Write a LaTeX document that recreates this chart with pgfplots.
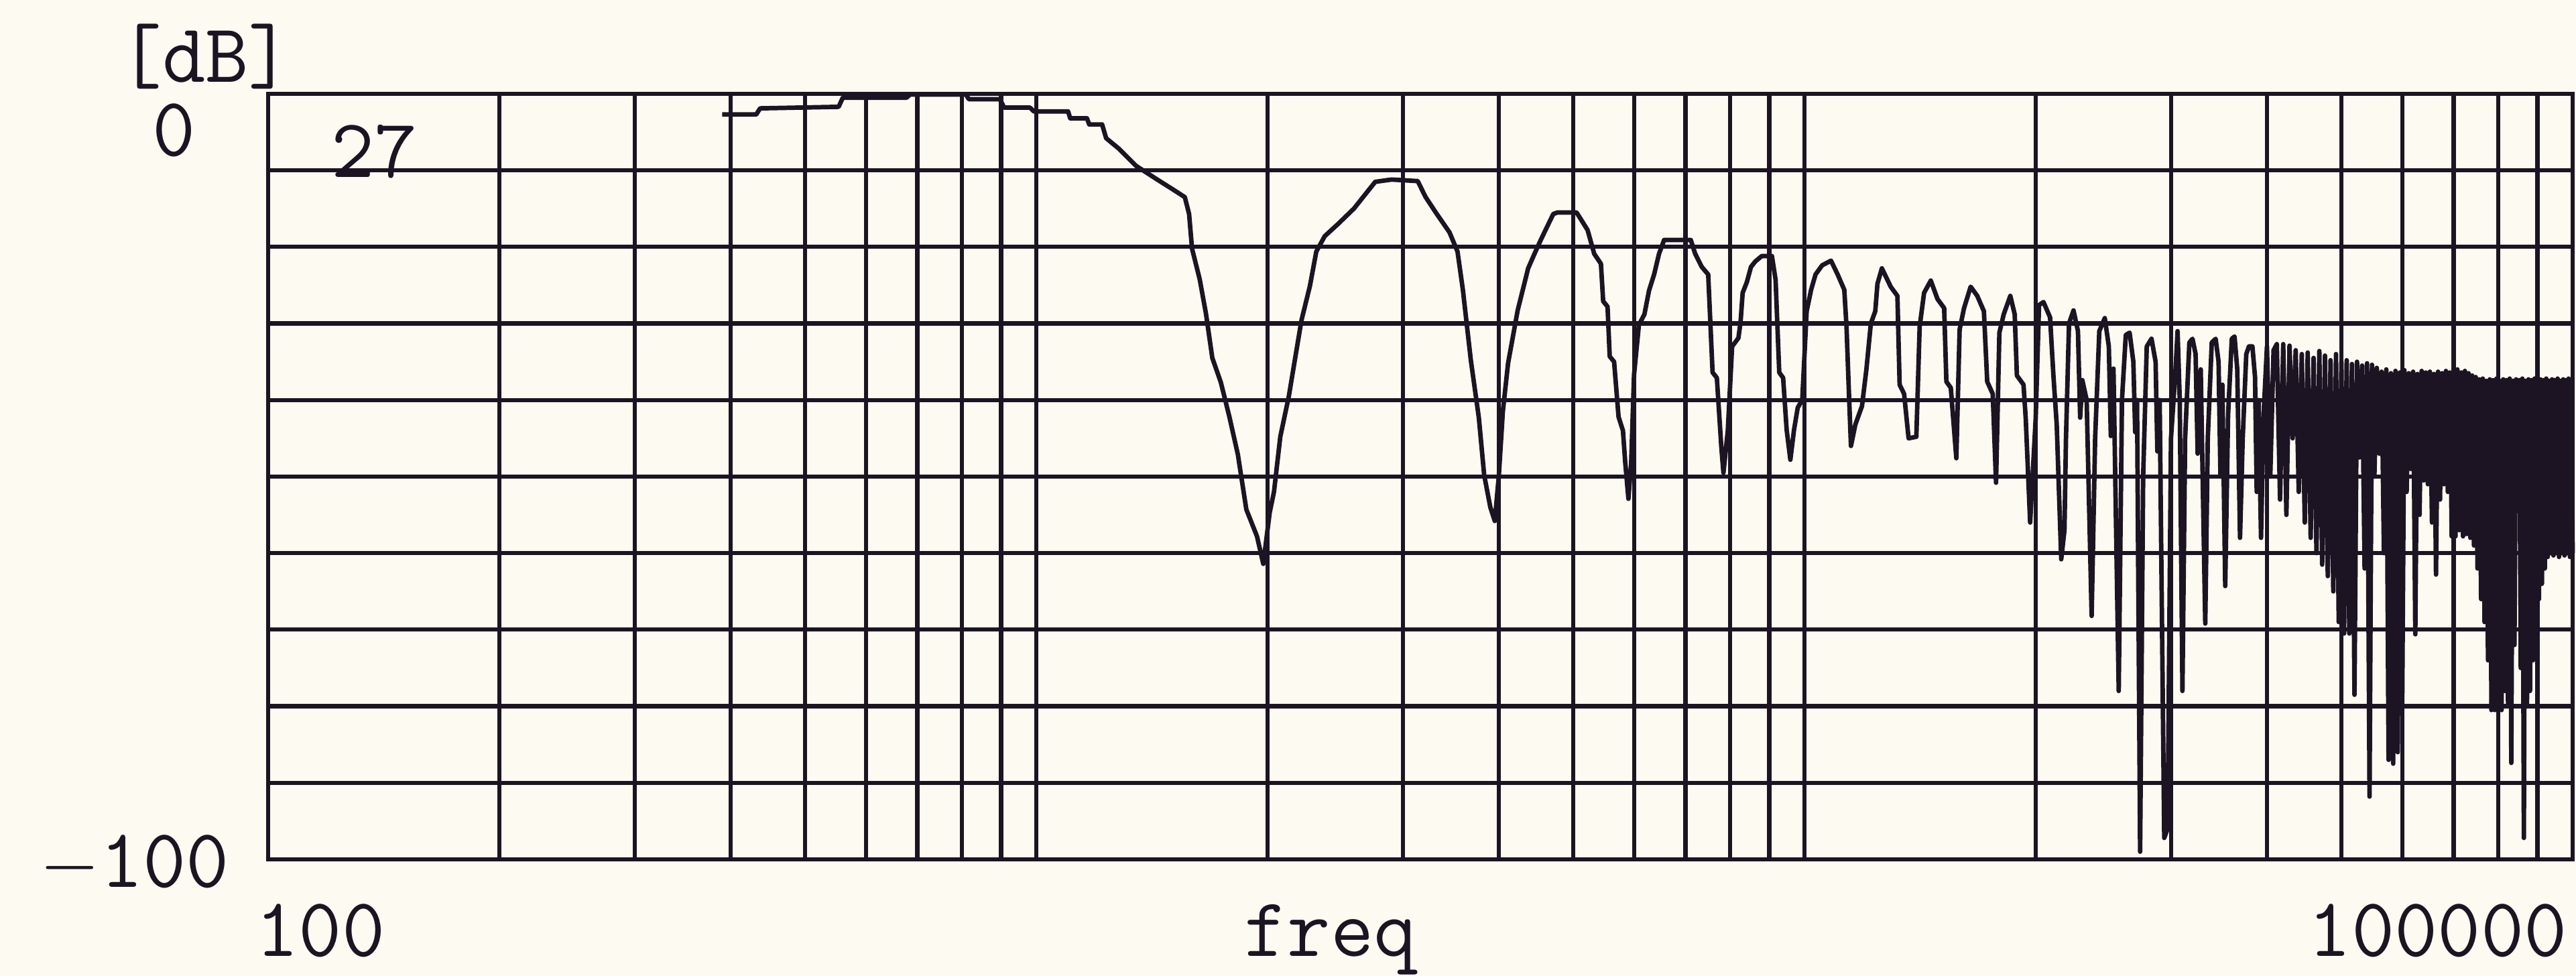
\documentclass[border=0pt]{standalone}
\usepackage{pgfplots}
\pgfplotsset{compat=1.18}
\usepackage{fontspec}
\definecolor{ink}{RGB}{28,20,34}
\definecolor{bgc}{RGB}{252,250,241}
\pagecolor{bgc}
\pgfplotstableread{
f dB
390 -2.7
432 -2.7
437 -1.9
553 -1.7
560 -0.5
678 -0.5
685 -0.1
810 -0.1
817 -0.7
897 -0.7
908 -1.8
981 -1.8
993 -2.3
1100 -2.3
1107 -3.2
1164 -3.2
1172 -4.0
1218 -4.0
1233 -5.8
1282 -7.2
1348 -9.4
1437 -11.2
1512 -12.6
1561 -13.5
1581 -15.7
1595 -20.2
1632 -24.2
1663 -28.7
1695 -34.5
1739 -37.7
1784 -42.2
1830 -47.1
1877 -54.3
1938 -57.8
1975 -61.4
2013 -54.7
2039 -52
2078 -44.8
2132 -39.5
2173 -34.5
2214 -29.6
2271 -25.1
2315 -20.6
2374 -18.6
2471 -17.0
2591 -15.0
2762 -11.5
2900 -11.2
3137 -11.4
3213 -13.5
3317 -15.6
3451 -18.1
3535 -20.6
3592 -25.6
3679 -34.8
3768 -42.3
3829 -49.8
3900 -54
3953 -55.8
4000 -50
4049 -41.5
4113 -35.2
4233 -28.3
4368 -22.8
4452 -20.9
4536 -19.1
4622 -17.4
4710 -15.7
4770 -15.5
5050 -15.5
5117 -16.4
5220 -17.8
5325 -20.9
5433 -22.2
5470 -27.1
5542 -27.8
5578 -34.3
5652 -35
5728 -42.2
5804 -44
5843 -48.1
5900 -52.9
5950 -48
6000 -36.7
6088 -30.2
6190 -28.8
6276 -25.7
6372 -23.6
6467 -20.9
6566 -19.1
7113 -19.1
7207 -20.9
7349 -22.6
7494 -23.6
7594 -36.4
7692 -37.1
7794 -46
7845 -49.5
7948 -44
8050 -33
8204 -31.9
8257 -29.8
8309 -26
8414 -24.6
8520 -22.6
8630 -21.9
8797 -21.2
9071 -21.2
9171 -24.3
9272 -36.4
9380 -37.1
9480 -43.9
9586 -47.8
9692 -43.9
9800 -41
9934 -40
10066 -28.4
10201 -25.6
10337 -23.6
10545 -22.4
10828 -21.8
11046 -23.6
11268 -25.6
11343 -30.4
11419 -38.4
11495 -46
11648 -43.2
11881 -40.8
12040 -36
12201 -30
12364 -28.4
12446 -24.8
12612 -22.8
12950 -25.2
13213 -26.4
13301 -38
13481 -39.2
13663 -45
13984 -44.8
14124 -30.4
14313 -26
14603 -24.4
14899 -26.8
15201 -28
15302 -37.6
15506 -38.4
15765 -47.6
15922 -30.8
16134 -28
16457 -25.2
16787 -26.4
17124 -28.4
17295 -37.6
17584 -39.2
17760 -50.8
17937 -31.2
18174 -28.8
18535 -26.4
18780 -28.8
18905 -36.8
19284 -38
19413 -42.4
19672 -56
20000 -42.4
20200 -27.6
20470 -27.2
20880 -29.2
21090 -36.8
21300 -43.2
21590 -60.8
21800 -57
21900 -45
22100 -30
22400 -28.3
22700 -31
22850 -42.3
23000 -37.4
23300 -40
23650 -68.2
23900 -45
24200 -31
24600 -29.3
24900 -33
25050 -44.7
25250 -35.9
25650 -78
25900 -40
26200 -31.5
26500 -31.2
26800 -35
26950 -44.2
27100 -40
27350 -99
27600 -50
27900 -33
28300 -32
28650 -35
28800 -46.7
29000 -40
29400 -97.2
29700 -96
30000 -45
30400 -36.4
30600 -31
30800 -40
31050 -78
31300 -45
31700 -32.5
32000 -32
32300 -34
32500 -47
32800 -36
33250 -69.2
33500 -45
33900 -32.5
34300 -32
34600 -35
34800 -50
35000 -38
35300 -64.3
35600 -42
36000 -32
36300 -31.7
36600 -36
36900 -58
37200 -45
37600 -34
37900 -33
38300 -33
38600 -37
38800 -52
39000 -40
39300 -58
39600 -42
40000 -33
40400 -50
40800 -33.5
41200 -32.7
41600 -53
42000 -32.7
42400 -55
42800 -32.9
43200 -45
43600 -33.5
44000 -52
44400 -34
44800 -56
45200 -33.8
45600 -58
46000 -34.5
46400 -60
46800 -33.6
47200 -61.5
47600 -34.2
48000 -63
48400 -34.8
48800 -65
49200 -34
49600 -69
50000 -35
50400 -70.5
50800 -34.8
51200 -70.5
51600 -35.3
52000 -78.5
52400 -35
52800 -47.5
53200 -35.5
53600 -62
54000 -35.2
54400 -91.8
54800 -35.4
55200 -50
55600 -35.8
56000 -47
56400 -36.3
56800 -60
57200 -36
57600 -87
58000 -36.5
58400 -87.5
58800 -36.2
59200 -86
59600 -36.4
60000 -80
60400 -36.1
60800 -52
61200 -36.5
61600 -49
62000 -36.3
62400 -70.6
62800 -36.6
63200 -55
63600 -36.2
64000 -50.5
64400 -36.4
64800 -51
65200 -36.3
65600 -56
66000 -36.6
66400 -62.8
66800 -36.3
67200 -53
67600 -36.5
68000 -51
68400 -36.2
68800 -52
69200 -36.4
69600 -57.8
70000 -36.2
70400 -57.8
70800 -36
71200 -57
71600 -36.4
72000 -57.8
72400 -36.2
72800 -57.5
73200 -36.5
73600 -58
74000 -36.8
74400 -59
74800 -37
75200 -62
75600 -37.3
76000 -66
76400 -37.2
76800 -69
77200 -37.5
77600 -74
78000 -37.3
78400 -80.5
78800 -37.4
79200 -80.5
79600 -37.2
80000 -80
80400 -37.5
80800 -80.5
81200 -37.3
81600 -78
82000 -37.4
82400 -80
82800 -37.2
83200 -87.4
83600 -37.5
84000 -72
84400 -37.3
84800 -47
85200 -37.4
85600 -75
86000 -37.2
86400 -97.2
86800 -37.5
87200 -80
87600 -37.3
88000 -78
88400 -37.4
88800 -74
89200 -37.2
89600 -71
90000 -37.5
90400 -66
90800 -37.3
91200 -64
91600 -37.4
92000 -62
92400 -37.2
92800 -60.5
93200 -37.5
93600 -60
94000 -37.3
94400 -60.3
94800 -37.4
95200 -60
95600 -37.2
96000 -60.5
96400 -37.5
96800 -60
97200 -37.3
97600 -60.3
98000 -37.4
98400 -60
98800 -37.2
99200 -60.5
99600 -37.4
100000 -60
}\resp
\begin{document}
\begin{tikzpicture}[every node/.style={inner sep=0pt, text=ink, font=\ttfamily\fontsize{13}{15}\selectfont}]
\begin{axis}[
  xmode=log, log basis x=10,
  xmin=100, xmax=100000, ymin=-100, ymax=0,
  scale only axis, width=357.85pt, height=118.87pt,
  xtick={100,1000,10000,100000},
  minor xtick={200,300,400,500,600,700,800,900,2000,3000,4000,5000,6000,7000,8000,9000,20000,30000,40000,50000,60000,70000,80000,90000},
  ytick={-100,-90,-80,-70,-60,-50,-40,-30,-20,-10,0},
  xticklabels={}, yticklabels={},
  major tick length=0pt, minor tick length=0pt,
  grid=both,
  major grid style={line width=0.65pt, draw=ink},
  minor grid style={line width=0.65pt, draw=ink},
  axis line style={line width=0.7pt, draw=ink},
  clip=false,
]
\addplot[ink, line width=0.7pt, line join=round, mark=none] table[x=f, y=dB] {\resp};
\coordinate (O) at (rel axis cs:0,0);
\end{axis}
\node[anchor=base] at ([xshift=-9.74pt, yshift=120.7pt]O) {[dB]};
\node[anchor=base] at ([xshift=-14.59pt, yshift=109.2pt]O) {0};
\node[anchor=base] at ([xshift=-20.71pt, yshift=-4.31pt]O) {$-$100};
\node[anchor=base] at ([xshift=16.5pt, yshift=105.9pt]O) {27};
\node[anchor=base] at ([xshift=8.11pt, yshift=-15.0pt]O) {100};
\node[anchor=base] at ([xshift=165.0pt, yshift=-15.0pt]O) {freq};
\node[anchor=base] at ([xshift=336.9pt, yshift=-15.0pt]O) {100000};
\pgfresetboundingbox
\path[use as bounding box] ([xshift=-41.63pt, yshift=-18.11pt]O) rectangle ++(400pt,151.55pt);
\end{tikzpicture}
\end{document}
